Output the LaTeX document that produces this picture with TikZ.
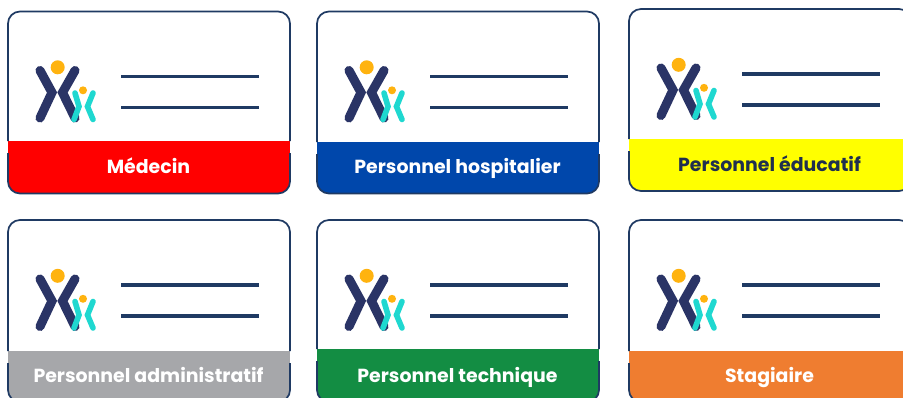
\documentclass[tikz,border=0pt]{standalone}
\usepackage{fontspec}
\setmainfont{Poppins}
\definecolor{navy}{HTML}{1F3A63}
\definecolor{logonavy}{HTML}{2A3466}
\definecolor{logoteal}{HTML}{1FD8D0}
\definecolor{logosun}{HTML}{FFB30F}
\definecolor{bandred}{HTML}{FF0000}
\definecolor{bandyellow}{HTML}{FFFF00}
\definecolor{bandblue}{HTML}{0047AB}
\definecolor{bandgray}{HTML}{A6A7AA}
\definecolor{bandgreen}{HTML}{138D43}
\definecolor{bandorange}{HTML}{EF7D30}
\definecolor{textdark}{HTML}{1F2F4F}
\tikzset{
  cardframe/.style={draw=navy,line width=1.3pt},
  rule/.style={draw=navy,line width=2.9pt},
  bigarm/.style={draw=logonavy,line width=6.8pt,line cap=round,line join=miter,miter limit=10},
  smallarm/.style={draw=logoteal,line width=4.2pt,line cap=round,line join=miter,miter limit=10},
  bandlabel/.style={font=\bfseries\fontsize{14.2}{16}\selectfont,anchor=base,inner sep=0pt}
}
% #1 name, #2 x, #3 y, #4 band top relative, #5 band colour, #6 text colour, #7 text
\newcommand{\badge}[7]{%
  \begin{scope}[shift={(#2,#3)}]
    \fill[white,rounded corners=9pt] (0,0) rectangle (282,182);
    \begin{scope}
      \clip[rounded corners=9pt] (0,0) rectangle (282,182);
      \fill[#5] (0,#4) rectangle (282,182);
    \end{scope}
    \draw[cardframe,rounded corners=9pt] (0,#4+12) -- (0,182) -- (282,182) -- (282,#4+12);
    \draw[cardframe,rounded corners=9pt] (0,#4) -- (0,0) -- (282,0) -- (282,#4);
    \draw[bigarm] (32,59) -- (44,81) -- (32,106.5);
    \draw[bigarm] (67,59) -- (54.5,81) -- (67,106.5);
    \fill[logosun] (49.7,55.8) circle[radius=7];
    \draw[smallarm] (67,81.5) -- (71,95) -- (66,108);
    \draw[smallarm] (85,81.5) -- (79.5,95) -- (85,108);
    \fill[logosun] (75,78.8) circle[radius=4];
    \draw[rule] (113,65) -- (251,65);
    \draw[rule] (113,96) -- (251,96);
    \node[bandlabel,text=#6] (#1) at (140.5,162) {#7};
  \end{scope}}
\begin{document}
\begin{tikzpicture}[x=0.75pt,y=-0.75pt]
  \useasboundingbox (0,0) rectangle (903,397);
  \clip (0,0) rectangle (903,397);
  \fill[white] (0,0) rectangle (903,397);
  \badge{medecin}{8}{11.5}{129.5}{bandred}{white}{Médecin}
  \badge{hospitalier}{317}{11.5}{130.5}{bandblue}{white}{Personnel hospitalier}
  \badge{educatif}{629}{9}{130}{bandyellow}{textdark}{Personnel éducatif}
  \badge{administratif}{8}{220}{131}{bandgray}{white}{Personnel administratif}
  \badge{technique}{317}{220}{129}{bandgreen}{white}{Personnel technique}
  \badge{stagiaire}{629}{220}{131}{bandorange}{white}{Stagiaire}
\end{tikzpicture}
\end{document}
